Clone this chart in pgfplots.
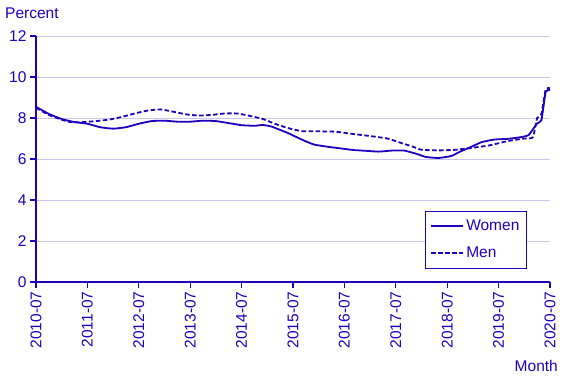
\documentclass[border=0pt]{standalone}
\usepackage{fontspec}
\setmainfont{Liberation Sans}
\usepackage{pgfplots}
\pgfplotsset{compat=1.18}
\definecolor{scb}{HTML}{1E00BE}
\definecolor{gridc}{HTML}{C8C8EE}
\begin{document}
\begin{tikzpicture}
\begin{axis}[
  at={(0,0)}, anchor=south west,
  scale only axis, width=514pt, height=246pt,
  xmin=0, xmax=120, ymin=0, ymax=12,
  xtick={0,12,...,120},
  xticklabels={2010-07,2011-07,2012-07,2013-07,2014-07,2015-07,2016-07,2017-07,2018-07,2019-07,2020-07},
  xticklabel style={rotate=90, anchor=east, font=\fontsize{15.5}{17}\selectfont, text=scb},
  ytick={0,2,...,12},
  yticklabel style={font=\fontsize{15.5}{17}\selectfont, text=scb},
  /pgf/number format/assume math mode=true,
  axis x line*=bottom, axis y line*=left,
  axis line style={scb, line width=1.2pt, -},
  tick style={scb, line width=1.2pt},
  tick align=outside, major tick length=6pt,
  ymajorgrids, grid style={gridc, line width=0.8pt},
  legend style={at={(0.955,0.053)}, anchor=south east, draw=scb, line width=1pt,
    font=\fontsize{15.5}{17}\selectfont, text=scb, row sep=11pt, inner xsep=5pt, inner ysep=7pt},
  legend cell align=left,
  legend image code/.code={\draw[#1] (0pt,0pt) -- (32pt,0pt);},
  clip=false,
]
\addplot[scb, line width=1.8pt, smooth, tension=0.3] coordinates {
(0,8.55)(3,8.2)(6,7.95)(9,7.8)(12,7.72)(15,7.55)(18,7.48)(21,7.55)(24,7.72)(27,7.85)
(30,7.87)(33,7.82)(36,7.82)(39,7.87)(42,7.85)(45,7.75)(48,7.65)(51,7.62)(53,7.66)(55,7.58)
(57,7.42)(59,7.25)(61,7.05)(63,6.86)(65,6.7)(68,6.6)(71,6.52)(74,6.44)(77,6.4)(80,6.36)
(83,6.41)(86,6.41)(89,6.24)(91,6.1)(94,6.05)(97,6.15)(99,6.36)(102,6.63)(104,6.82)(107,6.95)
(110,6.98)(113,7.06)(115,7.17)(117,7.74)(118,7.9)(119,9.28)(120,9.37)};
\addlegendentry{Women}
\addplot[scb, line width=1.8pt, dash pattern=on 4.5pt off 2.5pt, smooth, tension=0.3] coordinates {
(0,8.5)(3,8.15)(6,7.92)(8,7.8)(11,7.8)(14,7.85)(17,7.92)(20,8.05)(23,8.22)(26,8.36)
(29,8.42)(32,8.31)(35,8.18)(38,8.12)(41,8.15)(44,8.22)(47,8.22)(50,8.1)(53,7.95)(56,7.7)
(59,7.5)(62,7.36)(66,7.35)(70,7.33)(74,7.22)(78,7.12)(82,7.0)(85,6.8)(88,6.6)(90,6.45)
(94,6.42)(98,6.45)(102,6.55)(106,6.67)(110,6.87)(114,7.0)(116,7.06)(117,8.0)(118,8.2)
(119,9.4)(120,9.45)};
\addlegendentry{Men}
\node[anchor=base west, text=scb, font=\fontsize{15.5}{17}\selectfont, inner sep=0pt] at (rel axis cs:0,1) [xshift=-31pt, yshift=18pt] {Percent};
\node[anchor=base east, text=scb, font=\fontsize{15.5}{17}\selectfont, inner sep=0pt] at (rel axis cs:1,0) [xshift=8pt, yshift=-89pt] {Month};
\end{axis}
\useasboundingbox (-36pt,-96pt) rectangle (531pt,282pt);
\end{tikzpicture}
\end{document}
